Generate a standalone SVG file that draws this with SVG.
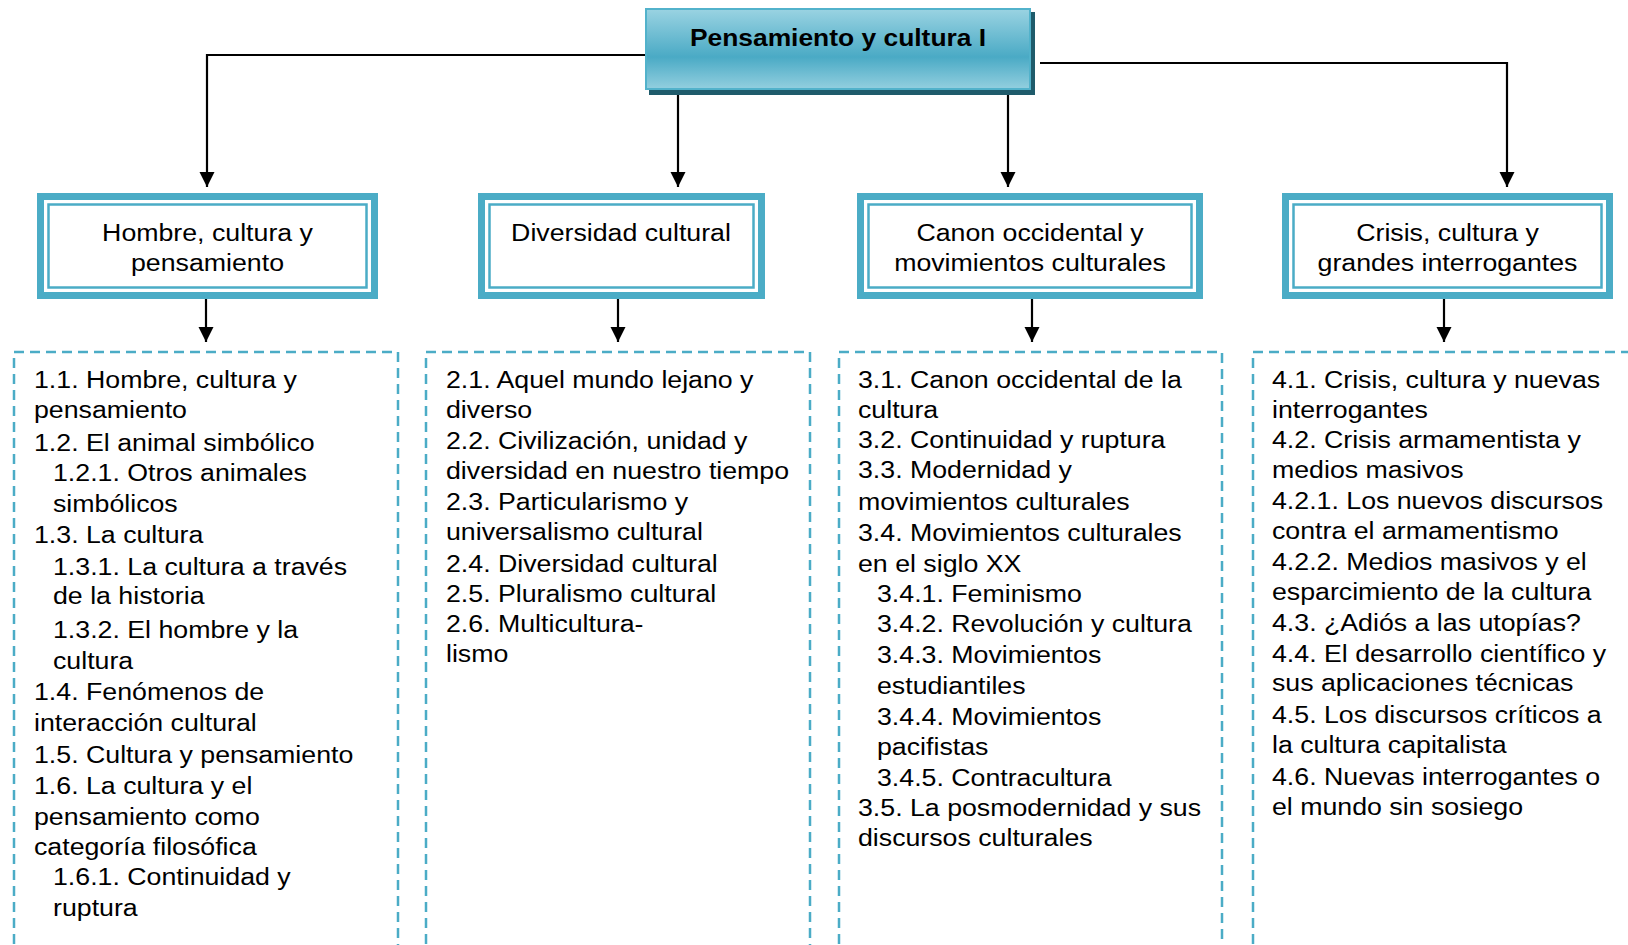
<svg xmlns="http://www.w3.org/2000/svg" width="1628" height="945" viewBox="0 0 1628 945">
<defs>
<style>
text{font-family:"Liberation Sans",Arial,sans-serif;font-size:24.3px;fill:#000}
.title{font-weight:bold;font-size:24px}
.conn{fill:none;stroke:#000;stroke-width:2.2}
.outer{fill:#4bacc6}
.inner{fill:#fff}
.thin{fill:none;stroke:#4bacc6;stroke-width:2.5}
.dash{fill:none;stroke:#4bacc6;stroke-width:2.5;stroke-dasharray:10 6}
</style>
<linearGradient id="tg" x1="0" y1="0" x2="0" y2="1">
<stop offset="0" stop-color="#9ad3e2"/>
<stop offset="0.6" stop-color="#4aaac5"/>
<stop offset="1" stop-color="#93cfdf"/>
</linearGradient>
<marker id="ah" viewBox="0 0 10 10" refX="10" refY="5" markerWidth="7" markerHeight="7" markerUnits="strokeWidth" orient="auto">
<path d="M0,0 L10,5 L0,10 z" fill="#000"/>
</marker>
</defs>
<rect width="1628" height="945" fill="#fff"/>

<g id="connectors">
<path class="conn" d="M645,55 H207 V187" marker-end="url(#ah)"/>
<path class="conn" d="M678,95 V187" marker-end="url(#ah)"/>
<path class="conn" d="M1008,95 V187" marker-end="url(#ah)"/>
<path class="conn" d="M1040,63 H1507 V187" marker-end="url(#ah)"/>
<path class="conn" d="M206,292 V342" marker-end="url(#ah)"/>
<path class="conn" d="M618,292 V342" marker-end="url(#ah)"/>
<path class="conn" d="M1032,292 V342" marker-end="url(#ah)"/>
<path class="conn" d="M1444,292 V342" marker-end="url(#ah)"/>
</g>

<g id="root">
<rect x="649" y="12" width="386" height="83" fill="#1f5b6b"/>
<rect x="646" y="9" width="384" height="80" fill="url(#tg)" stroke="#52b2cb" stroke-width="2"/>
<text class="title" transform="translate(838,0) scale(1.1,1)" x="0" y="46" text-anchor="middle">Pensamiento y cultura I</text>
</g>

<g id="unit1">
<rect class="outer" x="37" y="193" width="341" height="106"/>
<rect class="inner" x="44" y="200" width="327" height="92"/>
<rect class="thin" x="48.5" y="204.5" width="318" height="83"/>
<text transform="translate(207.5,0) scale(1.1,1)" text-anchor="middle"><tspan x="0" y="241">Hombre, cultura y</tspan><tspan x="0" y="271">pensamiento</tspan></text>
</g>

<g id="unit2">
<rect class="outer" x="478" y="193" width="287" height="106"/>
<rect class="inner" x="485" y="200" width="273" height="92"/>
<rect class="thin" x="489.5" y="204.5" width="264" height="83"/>
<text transform="translate(621,0) scale(1.1,1)" x="0" y="241" text-anchor="middle">Diversidad cultural</text>
</g>

<g id="unit3">
<rect class="outer" x="857" y="193" width="346" height="106"/>
<rect class="inner" x="864" y="200" width="332" height="92"/>
<rect class="thin" x="868.5" y="204.5" width="323" height="83"/>
<text transform="translate(1030,0) scale(1.1,1)" text-anchor="middle"><tspan x="0" y="241">Canon occidental y</tspan><tspan x="0" y="271">movimientos culturales</tspan></text>
</g>

<g id="unit4">
<rect class="outer" x="1282" y="193" width="331" height="106"/>
<rect class="inner" x="1289" y="200" width="317" height="92"/>
<rect class="thin" x="1293.5" y="204.5" width="308" height="83"/>
<text transform="translate(1447.5,0) scale(1.1,1)" text-anchor="middle"><tspan x="0" y="241">Crisis, cultura y</tspan><tspan x="0" y="271">grandes interrogantes</tspan></text>
</g>

<g id="list1">
<path class="dash" d="M14,960 V352 H398 V960"/>
<text transform="translate(34,0) scale(1.1,1)">
<tspan x="0" y="388">1.1. Hombre, cultura y</tspan>
<tspan x="0" y="418">pensamiento</tspan>
<tspan x="0" y="451">1.2. El animal simbólico</tspan>
<tspan x="17.3" y="481">1.2.1. Otros animales</tspan>
<tspan x="17.3" y="512">simbólicos</tspan>
<tspan x="0" y="543">1.3. La cultura</tspan>
<tspan x="17.3" y="575">1.3.1. La cultura a través</tspan>
<tspan x="17.3" y="604">de la historia</tspan>
<tspan x="17.3" y="638">1.3.2. El hombre y la</tspan>
<tspan x="17.3" y="669">cultura</tspan>
<tspan x="0" y="700">1.4. Fenómenos de</tspan>
<tspan x="0" y="731">interacción cultural</tspan>
<tspan x="0" y="763">1.5. Cultura y pensamiento</tspan>
<tspan x="0" y="794">1.6. La cultura y el</tspan>
<tspan x="0" y="825">pensamiento como</tspan>
<tspan x="0" y="855">categoría filosófica</tspan>
<tspan x="17.3" y="885">1.6.1. Continuidad y</tspan>
<tspan x="17.3" y="916">ruptura</tspan>
</text>
</g>

<g id="list2">
<path class="dash" d="M426,960 V352 H810 V960"/>
<text transform="translate(446,0) scale(1.1,1)">
<tspan x="0" y="388">2.1. Aquel mundo lejano y</tspan>
<tspan x="0" y="418">diverso</tspan>
<tspan x="0" y="449">2.2. Civilización, unidad y</tspan>
<tspan x="0" y="479">diversidad en nuestro tiempo</tspan>
<tspan x="0" y="510">2.3. Particularismo y</tspan>
<tspan x="0" y="540">universalismo cultural</tspan>
<tspan x="0" y="572">2.4. Diversidad cultural</tspan>
<tspan x="0" y="602">2.5. Pluralismo cultural</tspan>
<tspan x="0" y="632">2.6. Multicultura-</tspan>
<tspan x="0" y="662">lismo</tspan>
</text>
</g>

<g id="list3">
<path class="dash" d="M839,960 V352 H1222 V960"/>
<text transform="translate(858,0) scale(1.1,1)">
<tspan x="0" y="388">3.1. Canon occidental de la</tspan>
<tspan x="0" y="418">cultura</tspan>
<tspan x="0" y="448">3.2. Continuidad y ruptura</tspan>
<tspan x="0" y="478">3.3. Modernidad y</tspan>
<tspan x="0" y="510">movimientos culturales</tspan>
<tspan x="0" y="541">3.4. Movimientos culturales</tspan>
<tspan x="0" y="572">en el siglo XX</tspan>
<tspan x="17.3" y="602">3.4.1. Feminismo</tspan>
<tspan x="17.3" y="632">3.4.2. Revolución y cultura</tspan>
<tspan x="17.3" y="663">3.4.3. Movimientos</tspan>
<tspan x="17.3" y="694">estudiantiles</tspan>
<tspan x="17.3" y="725">3.4.4. Movimientos</tspan>
<tspan x="17.3" y="755">pacifistas</tspan>
<tspan x="17.3" y="786">3.4.5. Contracultura</tspan>
<tspan x="0" y="816">3.5. La posmodernidad y sus</tspan>
<tspan x="0" y="846">discursos culturales</tspan>
</text>
</g>

<g id="list4">
<path class="dash" d="M1253,960 V352 H1640"/>
<text transform="translate(1272,0) scale(1.1,1)">
<tspan x="0" y="388">4.1. Crisis, cultura y nuevas</tspan>
<tspan x="0" y="418">interrogantes</tspan>
<tspan x="0" y="448">4.2. Crisis armamentista y</tspan>
<tspan x="0" y="478">medios masivos</tspan>
<tspan x="0" y="509">4.2.1. Los nuevos discursos</tspan>
<tspan x="0" y="539">contra el armamentismo</tspan>
<tspan x="0" y="570">4.2.2. Medios masivos y el</tspan>
<tspan x="0" y="600">esparcimiento de la cultura</tspan>
<tspan x="0" y="631">4.3. ¿Adiós a las utopías?</tspan>
<tspan x="0" y="662">4.4. El desarrollo científico y</tspan>
<tspan x="0" y="691">sus aplicaciones técnicas</tspan>
<tspan x="0" y="723">4.5. Los discursos críticos a</tspan>
<tspan x="0" y="753">la cultura capitalista</tspan>
<tspan x="0" y="785">4.6. Nuevas interrogantes o</tspan>
<tspan x="0" y="815">el mundo sin sosiego</tspan>
</text>
</g>
</svg>
